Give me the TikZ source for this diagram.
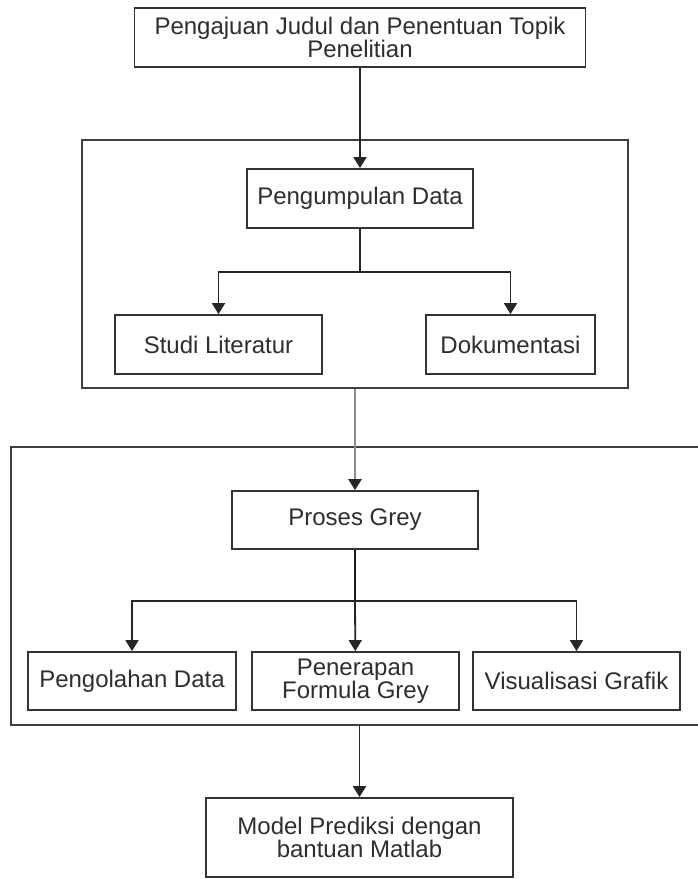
\documentclass[tikz,border=0pt]{standalone}
\usepackage{fontspec}
\setmainfont{Liberation Sans}
\usepackage{tikz}
\usetikzlibrary{arrows.meta,positioning}

\begin{document}
\begin{tikzpicture}[x=1pt,y=-1pt,
    box/.style={draw=black!80, line width=1.8pt, text=black!82, inner sep=0pt,
      align=center, font=\fontsize{24}{22}\selectfont, minimum height=59pt},
    frame/.style={draw=black!75, line width=1.8pt, inner sep=0pt},
    link/.style={draw=black!85, line width=1.8pt, -{Triangle[length=11pt,width=13pt]}}]
                \useasboundingbox (0,0) rectangle (698,879);
                \fill [white] (0,0) rectangle (698,879);
                \node [frame, minimum width=546pt, minimum height=248pt] (grup1) at (355,264) {};
                \node [frame, minimum width=709pt, minimum height=278pt] (grup2) at (365.5,586) {};
                \node [box, minimum width=451pt] (judul) at (360,37.5) {Pengajuan Judul dan Penentuan Topik\\Penelitian};
                \node [box, minimum width=226pt] (kumpul) at (360,198.5) {Pengumpulan Data};
                \node [box, minimum width=207pt] (studi) at (218.5,344.5) {Studi Literatur};
                \node [box, minimum width=169pt] (doku) at (510.5,344.5) {Dokumentasi};
                \node [box, minimum width=246pt, minimum height=58pt] (proses) at (355,520) {Proses Grey};
                \node [box, minimum width=208pt, minimum height=58pt] (olah) at (132,681) {Pengolahan Data};
                \node [box, minimum width=207pt, minimum height=58pt] (terap) at (355.5,681) {Penerapan\\Formula Grey};
                \node [box, minimum width=207pt, minimum height=58pt] (visual) at (576.5,681) {Visualisasi Grafik};
                \node [box, minimum width=307pt, minimum height=79pt] (model) at (359.5,837.5) {Model Prediksi dengan\\bantuan Matlab};
                \coordinate (cab1) at (360,272);
                \coordinate (cab2) at (355,601);
                \draw [link] (judul) -- (kumpul);
                \draw [black!85, line width=1.8pt] (kumpul) -- (cab1);
                \draw [link] (cab1) -| (studi);
                \draw [link] (cab1) -| (doku);
                \draw [link, draw=black!45, line width=2.6pt, -{Triangle[length=11pt,width=13pt,color=black!85]}] (grup1.south -| proses) -- (proses);
                \draw [black!90, line width=2.4pt] (proses) -- (cab2);
                \draw [link] (cab2) -| (olah);
                \draw [link] (cab2) -- (terap);
                \draw [link] (cab2) -| (visual);
                \draw [link] (grup2.south -| model) -- (model);
            \end{tikzpicture}
\end{document}
